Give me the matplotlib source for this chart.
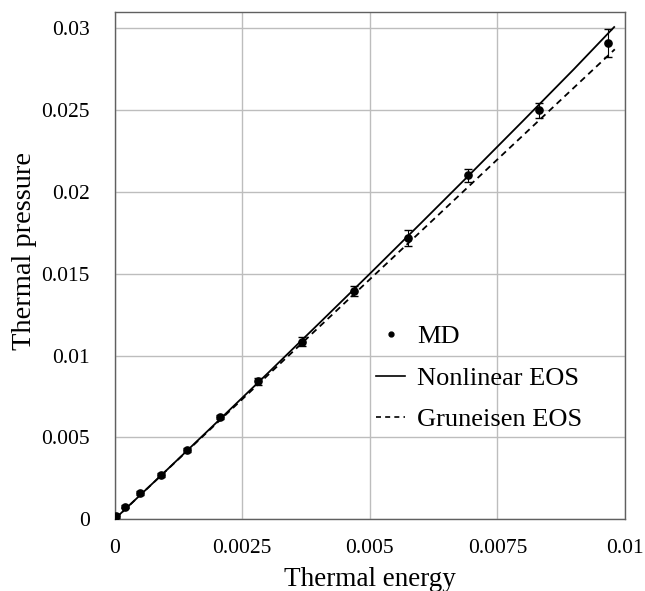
import matplotlib
matplotlib.use("Agg")
import matplotlib.pyplot as plt
from matplotlib.lines import Line2D

# MD data (thermal energy, thermal pressure, error)
md_energy = [0.00003, 0.00021, 0.00050, 0.00091, 0.00142, 0.00207, 0.00281,
             0.00367, 0.00469, 0.00575, 0.00692, 0.00832, 0.00967]
md_pressure = [0.00020, 0.00076, 0.00161, 0.00271, 0.00423, 0.00624, 0.00843,
               0.01086, 0.01397, 0.01720, 0.02103, 0.02499, 0.02912]
md_error = [0.0001, 0.0001, 0.0001, 0.0001, 0.0001, 0.00012, 0.0002,
            0.0003, 0.0003, 0.0005, 0.0004, 0.00045, 0.00085]

# Nonlinear EOS curve
nl_energy = [0.0, 0.001, 0.002, 0.003, 0.004, 0.005, 0.006, 0.007, 0.008, 0.009, 0.0098]
nl_pressure = [0.0, 0.00294, 0.00592, 0.00892, 0.01195, 0.01500, 0.01809,
               0.02120, 0.02434, 0.02751, 0.03012]

# Gruneisen EOS line
gr_energy = [0.0, 0.0025, 0.005, 0.0075, 0.0098]
gr_pressure = [0.0, 0.00733, 0.01466, 0.02199, 0.02872]

x_ticks = [0, 0.0025, 0.005, 0.0075, 0.01]
x_tick_labels = ["0", "0.0025", "0.005", "0.0075", "0.01"]
y_ticks = [0, 0.005, 0.01, 0.015, 0.02, 0.025, 0.03]
y_tick_labels = ["0", "0.005", "0.01", "0.015", "0.02", "0.025", "0.03"]

plt.rcParams['font.family'] = ['Liberation Serif', 'DejaVu Serif']

fig = plt.figure(figsize=(6.45, 5.91), dpi=100)
ax = fig.add_axes([114.5 / 645, (591 - 519.3) / 591, (625 - 114.5) / 645, (519.3 - 12) / 591])

ax.plot(nl_energy, nl_pressure, color='black', lw=1.3, solid_capstyle='butt', zorder=3)
ax.plot(gr_energy, gr_pressure, color='black', lw=1.3, linestyle=(0, (3.5, 2.5)), zorder=3)
ax.errorbar(md_energy, md_pressure, yerr=md_error, fmt='o', color='black',
            markersize=5.2, elinewidth=0.8, capsize=3, capthick=1.0, zorder=4)

ax.set_xlim(0, 0.01)
ax.set_ylim(0, 0.031)
ax.set_xticks(x_ticks)
ax.set_xticklabels(x_tick_labels)
ax.set_yticks(y_ticks)
ax.set_yticklabels(y_tick_labels)
ax.tick_params(axis='both', length=0, labelsize=15.5)
ax.tick_params(axis='x', pad=14)
ax.tick_params(axis='y', pad=18)
ax.grid(True, color='#bdbdbd', lw=1.0)
ax.set_axisbelow(True)
for s in ax.spines.values():
    s.set_color('#606060')
    s.set_linewidth(1.0)

ax.set_xlabel("Thermal energy", fontsize=19.5, labelpad=7)
ax.set_ylabel("Thermal pressure", fontsize=20.5)
ax.yaxis.set_label_coords((37 - 114.5) / 510.5, (519.3 - 251) / 507.3)

handles = [
    Line2D([], [], marker='o', color='black', linestyle='none', markersize=3.5),
    Line2D([], [], color='black', lw=1.2),
    Line2D([], [], color='black', lw=1.2, linestyle=(0, (3, 2.5))),
]
labels = ["MD", "Nonlinear EOS", "Gruneisen EOS"]
fig.legend(handles, labels, loc='upper left', bbox_to_anchor=(376 / 645, 1 - 325 / 591),
           frameon=False, fontsize=19, handlelength=1.1, handletextpad=0.45,
           labelspacing=0.68, borderpad=0, borderaxespad=0)

fig.savefig("out.png", dpi=100)
